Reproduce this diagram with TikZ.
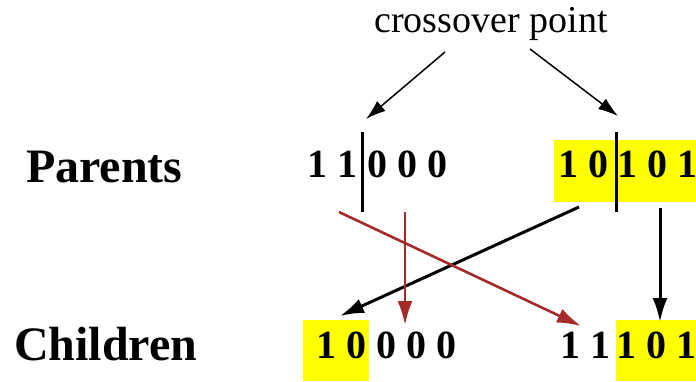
\documentclass[tikz,border=0pt]{standalone}
\usepackage{fontspec}
\setmainfont{Liberation Serif}
\usetikzlibrary{arrows.meta}
\definecolor{hiyel}{HTML}{FFFF00}
\definecolor{redarrow}{HTML}{A52A2A}
\tikzset{
  label/.style={inner sep=0pt, font=\fontsize{48}{52}\selectfont\bfseries},
  digits/.style={inner sep=0pt, anchor=base west, font=\fontsize{40}{44}\selectfont\bfseries},
  cptext/.style={inner sep=0pt, anchor=base, font=\fontsize{38}{42}\selectfont},
  hibox/.style={fill=hiyel, draw=none},
  cutbar/.style={line width=3pt, black},
  pointer/.style={line width=1.5pt, -{Latex[length=20pt,width=13pt]}},
  blackarrow/.style={line width=3pt, -{Latex[length=24pt,width=15pt]}},
  redarr/.style={line width=2.6pt, redarrow, -{Latex[length=24pt,width=15pt]}}
}
\begin{document}
\begin{tikzpicture}[x=1pt,y=-1pt]
\useasboundingbox (0,0) rectangle (696,381);
% highlight boxes
\fill[hibox] (554,140) rectangle (696,202);
\fill[hibox] (303,320) rectangle (369,381);
\fill[hibox] (616,320) rectangle (696,381);
% labels
\node[cptext] (cp) at (491,32) {crossover point};
\node[label, anchor=base west] (par) at (26,182) {Parents};
\node[label, anchor=base west] (chi) at (14,360) {Children};
% parents
\node[digits] (p1a) at (307,177) {1 1};
\node[digits] (p1b) at (367,177) {0 0 0};
\node[digits] (p2a) at (558,177) {1 0};
\node[digits] (p2b) at (617,177) {1 0 1};
% children
\node[digits] (c1) at (316,358) {1 0 0 0 0};
\node[digits] (c2a) at (560,358) {1 1};
\node[digits] (c2b) at (616,358) {1 0 1};
% cut bars
\coordinate (b1t) at (362,132); \coordinate (b1b) at (362,212);
\coordinate (b2t) at (616,132); \coordinate (b2b) at (616,212);
\draw[cutbar] (b1t) -- (b1b);
\draw[cutbar] (b2t) -- (b2b);
% crossover pointers
\coordinate (cpl) at (445,52); \coordinate (cpr) at (530,49);
\coordinate (t1) at (366,119); \coordinate (t2) at (618,116);
\draw[pointer] (cpl) -- (t1);
\draw[pointer] (cpr) -- (t2);
% black arrows
\coordinate (s1) at (579,207); \coordinate (e1) at (340,316);
\coordinate (s2) at (660,208); \coordinate (e2) at (660,322);
\draw[blackarrow] (s1) -- (e1);
\draw[blackarrow] (s2) -- (e2);
% red arrows
\coordinate (r1s) at (405,212); \coordinate (r1e) at (405,325);
\coordinate (r2s) at (339,212); \coordinate (r2e) at (581,326);
\draw[redarr] (r1s) -- (r1e);
\draw[redarr] (r2s) -- (r2e);
\end{tikzpicture}
\end{document}
